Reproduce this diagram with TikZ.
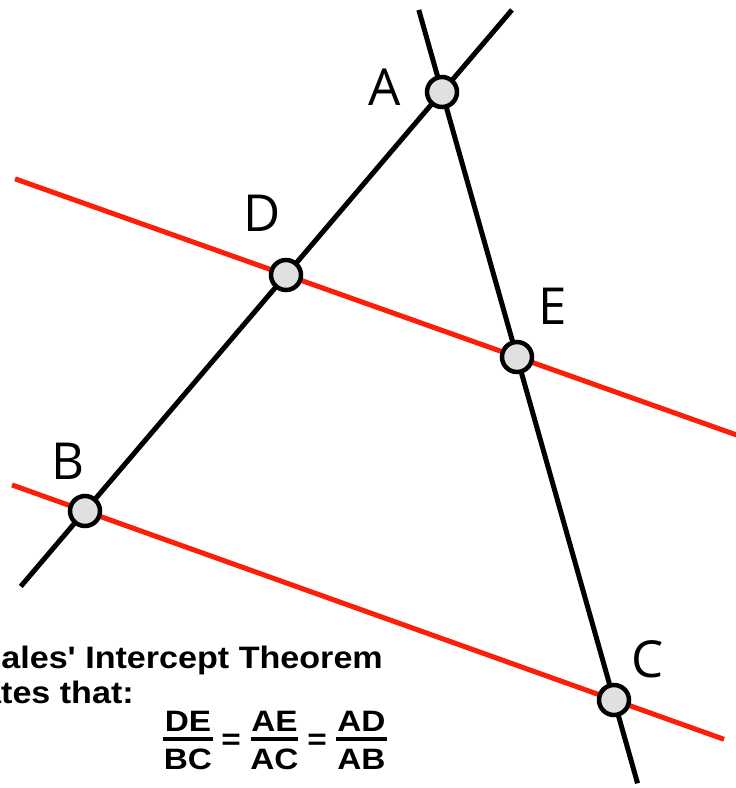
\documentclass[tikz,border=0pt]{standalone}
\usepackage{fontspec}
\setmainfont{Liberation Sans}
\newfontfamily\labelfont{Open Sans}
\newfontfamily\thmfont[FakeStretch=1.1]{Liberation Sans}
\newfontfamily\fracfont[FakeStretch=1.13]{Liberation Sans}
\usetikzlibrary{calc}
\definecolor{linered}{RGB}{252,30,8}
\definecolor{ptfill}{RGB}{224,224,224}
\tikzset{
  blk/.style={line width=5pt, black},
  redline/.style={line width=5pt, linered},
  ptc/.style={circle, draw=black, line width=4.5pt, fill=ptfill, minimum size=30pt, inner sep=0pt},
  lbl/.style={font=\labelfont\fontsize{51}{55}\selectfont, inner sep=0pt},
  thm/.style={font=\thmfont\bfseries\fontsize{31}{35}\selectfont, inner sep=0pt},
  frc/.style={font=\fracfont\bfseries\fontsize{29.5}{33}\selectfont, inner sep=0pt},
  fbar/.style={line width=4pt, black}
}
\begin{document}
\begin{tikzpicture}[x=1pt, y=-1pt]
\useasboundingbox (0,0) rectangle (736,788);
\clip (0,0) rectangle (736,788);
\coordinate (A) at (442,92);
\coordinate (B) at (85,511);
\coordinate (C) at (614,700);
\coordinate (D) at (286,275);
\coordinate (E) at (517,357);
% line ends
\coordinate (ab1) at ($(A)!-0.196!(B)$);
\coordinate (ab2) at ($(A)!1.18!(B)$);
\coordinate (ac1) at ($(A)!-0.135!(C)$);
\coordinate (ac2) at ($(A)!1.137!(C)$);
\coordinate (de1) at ($(D)!-1.173!(E)$);
\coordinate (de2) at ($(D)!2.0!(E)$);
\coordinate (bc1) at ($(B)!-0.138!(C)$);
\coordinate (bc2) at ($(B)!1.208!(C)$);
% red parallels
\draw[redline] (de1) -- (de2);
\draw[redline] (bc1) -- (bc2);
% black transversals
\draw[blk] (ab1) -- (ab2);
\draw[blk] (ac1) -- (ac2);
% points
\node[ptc] (nA) at (A) {};
\node[ptc] (nB) at (B) {};
\node[ptc] (nC) at (C) {};
\node[ptc] (nD) at (D) {};
\node[ptc] (nE) at (E) {};
% labels
\node[lbl] (lA) at (385,87) {A};
\node[lbl] (lB) at (68,461) {B};
\node[lbl] (lC) at (648,659) {C};
\node[lbl] (lD) at (262,213) {D};
\node[lbl] (lE) at (553,306) {E};
% theorem text
\node[thm, anchor=base east] (t1) at (383,668) {Thales' Intercept Theorem};
\node[thm, anchor=base east] (t2) at (134,703) {states that:};
% fractions
\node[frc, anchor=base] (n1) at (188,731) {DE};
\node[frc, anchor=base] (d1) at (188,769) {BC};
\draw[fbar] (163,738.5) -- (213,738.5);
\node[frc, anchor=base] (eq1) at (231,749) {=};
\node[frc, anchor=base] (n2) at (274.5,731) {AE};
\node[frc, anchor=base] (d2) at (274.5,769) {AC};
\draw[fbar] (251,738.5) -- (298,738.5);
\node[frc, anchor=base] (eq2) at (317,749) {=};
\node[frc, anchor=base] (n3) at (361.5,731) {AD};
\node[frc, anchor=base] (d3) at (361.5,769) {AB};
\draw[fbar] (336,738.5) -- (387,738.5);
\end{tikzpicture}
\end{document}
